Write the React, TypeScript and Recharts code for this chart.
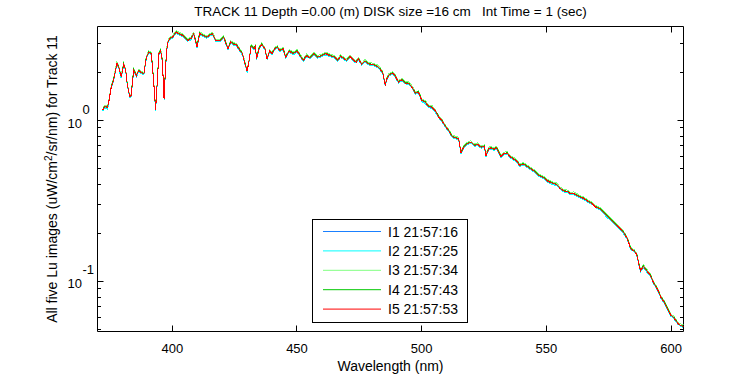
import React from 'react';
import { LineChart, Line, XAxis, YAxis, Legend, ReferenceLine } from 'recharts';

// plot box in pixels (matches the MATLAB figure)
const PLOT_LEFT = 97.5;
const PLOT_RIGHT = 683.5;
const PLOT_TOP = 26.5;
const PLOT_BOTTOM = 331.5;
const X_AXIS_H = 30;
const Y_AXIS_W = 60;
const FONT = '"Liberation Sans", Arial, Helvetica, sans-serif';
const TICK_COLOR = '#000';

const wavelength = [
  372, 373, 374, 374.5, 375.5, 376.4, 377.8, 378.6, 379.5, 380.5,
  381.3, 381.9, 382.9, 383.5, 384.5, 385.6, 386.5, 387.6, 388.6, 389.6,
  390.6, 391.6, 392.5, 393.3, 394.0, 394.6, 395.3, 396.0, 396.7, 397.3,
  398.0, 398.9, 400.0, 401.6, 402.7, 404.3, 406.0, 407.4, 408.6, 409.9,
  411.0, 412.3, 413.7, 414.7, 416.1, 417.4, 419.0, 420.6, 422.3, 423.4,
  424.4, 425.7, 427.1, 428.1, 429.1, 430.0, 430.8, 431.6, 432.7, 433.3,
  433.8, 434.8, 435.8, 437.1, 438.0, 439.1, 440.0, 441.1, 442.1, 443.1,
  444.5, 445.4, 446.9, 448.5, 450.1, 451.2, 452.5, 453.9, 455.2, 456.8,
  458.1, 459.9, 461.6, 463.2, 465.3, 466.2, 467.5, 468.9, 469.9, 471.3,
  472.6, 473.7, 474.6, 476.0, 477.3, 478.6, 480.6, 482.2, 483.3, 484.4,
  485.4, 486.0, 487.0, 488.4, 489.3, 490.7, 492.0, 493.4, 494.7, 496.1,
  497.4, 498.7, 500.1, 501.4, 502.8, 504.1, 505.4, 506.8, 508.1, 509.5,
  510.8, 512.2, 513.5, 514.8, 515.8, 516.8, 518.2, 519.8, 521.1, 522.5,
  523.8, 525.1, 525.8, 526.9, 527.8, 528.9, 530.0, 530.9, 531.8, 532.9,
  534.3, 535.3, 536.7, 538.0, 539.3, 540.7, 542.3, 543.6, 545.2, 547.0,
  549.0, 550.6, 552.3, 554.1, 555.7, 557.3, 558.6, 559.7, 561.0, 562.4,
  563.7, 565.3, 567.1, 568.4, 569.8, 571.5, 573.1, 574.7, 576.5, 578.2,
  579.8, 581.4, 582.5, 583.0, 583.8, 585.1, 586.2, 587.2, 587.8, 588.9,
  590.3, 591.6, 593.2, 594.5, 595.9, 597.2, 598.6, 599.9, 601.3, 602.6,
  603.7, 605.0,
];

// I1 21:57:16
const lu1 = [
  1.15, 1.21, 1.19, 1.29, 1.60, 1.76, 2.25, 2.11, 1.85, 2.21,
  2.04, 1.68, 1.40, 1.42, 2.05, 1.89, 2.03, 1.97, 1.94, 2.45,
  2.63, 2.58, 1.76, 1.16, 1.76, 2.58, 2.70, 2.34, 1.35, 2.15,
  2.97, 3.20, 3.27, 3.52, 3.43, 3.35, 3.12, 3.20, 3.43, 2.86,
  3.46, 3.35, 3.27, 3.35, 3.43, 3.12, 3.10, 3.27, 2.77, 3.05,
  2.97, 2.94, 2.70, 2.58, 2.25, 2.01, 2.34, 2.88, 2.77, 2.86,
  2.40, 2.78, 2.95, 2.78, 2.40, 2.68, 2.58, 2.77, 2.83, 2.70,
  2.77, 2.45, 2.68, 2.58, 2.68, 2.51, 2.34, 2.51, 2.43, 2.58,
  2.45, 2.51, 2.58, 2.51, 2.45, 2.34, 2.48, 2.40, 2.34, 2.48,
  2.36, 2.28, 2.40, 2.21, 2.32, 2.23, 2.20, 2.15, 2.08, 1.96,
  1.64, 1.80, 1.92, 1.96, 1.89, 1.72, 1.78, 1.70, 1.69, 1.60,
  1.47, 1.49, 1.32, 1.29, 1.21, 1.20, 1.14, 1.04, 0.993, 0.912,
  0.861, 0.790, 0.775, 0.765, 0.623, 0.678, 0.711, 0.728, 0.695, 0.705,
  0.678, 0.685, 0.602, 0.662, 0.672, 0.655, 0.672, 0.631, 0.594, 0.617,
  0.623, 0.594, 0.574, 0.560, 0.521, 0.534, 0.514, 0.497, 0.482, 0.452,
  0.437, 0.417, 0.405, 0.397, 0.373, 0.361, 0.359, 0.348, 0.350, 0.340,
  0.332, 0.324, 0.309, 0.303, 0.288, 0.281, 0.264, 0.249, 0.235, 0.221,
  0.211, 0.196, 0.183, 0.174, 0.159, 0.154, 0.147, 0.125, 0.116, 0.123,
  0.115, 0.109, 0.0960, 0.0893, 0.0794, 0.0740, 0.0672, 0.0614, 0.0586, 0.0548,
  0.0530, 0.0521,
];

// I2 21:57:25
const lu2 = [
  1.14, 1.20, 1.18, 1.28, 1.59, 1.75, 2.24, 2.09, 1.83, 2.20,
  2.02, 1.67, 1.39, 1.41, 2.03, 1.87, 2.01, 1.95, 1.92, 2.44,
  2.61, 2.56, 1.75, 1.15, 1.75, 2.56, 2.68, 2.33, 1.34, 2.14,
  2.95, 3.17, 3.24, 3.49, 3.40, 3.32, 3.10, 3.17, 3.40, 2.84,
  3.43, 3.32, 3.24, 3.32, 3.40, 3.10, 3.08, 3.24, 2.75, 3.03,
  2.95, 2.92, 2.68, 2.56, 2.24, 1.99, 2.33, 2.86, 2.75, 2.84,
  2.39, 2.76, 2.93, 2.76, 2.39, 2.66, 2.56, 2.75, 2.81, 2.68,
  2.75, 2.44, 2.66, 2.56, 2.66, 2.49, 2.33, 2.49, 2.42, 2.56,
  2.44, 2.49, 2.56, 2.49, 2.44, 2.33, 2.47, 2.39, 2.33, 2.47,
  2.35, 2.27, 2.39, 2.20, 2.31, 2.22, 2.19, 2.14, 2.06, 1.94,
  1.63, 1.78, 1.90, 1.94, 1.87, 1.71, 1.76, 1.69, 1.68, 1.59,
  1.46, 1.48, 1.31, 1.28, 1.20, 1.19, 1.13, 1.04, 0.986, 0.905,
  0.855, 0.785, 0.769, 0.759, 0.618, 0.673, 0.706, 0.723, 0.690, 0.700,
  0.673, 0.680, 0.598, 0.658, 0.668, 0.651, 0.668, 0.626, 0.590, 0.612,
  0.618, 0.590, 0.570, 0.556, 0.518, 0.530, 0.511, 0.494, 0.478, 0.449,
  0.434, 0.414, 0.402, 0.394, 0.371, 0.359, 0.357, 0.345, 0.347, 0.337,
  0.329, 0.321, 0.307, 0.301, 0.286, 0.279, 0.262, 0.247, 0.234, 0.220,
  0.209, 0.194, 0.181, 0.173, 0.158, 0.153, 0.146, 0.124, 0.115, 0.122,
  0.114, 0.108, 0.0953, 0.0886, 0.0789, 0.0735, 0.0668, 0.0609, 0.0582, 0.0544,
  0.0527, 0.0518,
];

// I3 21:57:34
const lu3 = [
  1.19, 1.25, 1.23, 1.33, 1.65, 1.81, 2.32, 2.17, 1.90, 2.28,
  2.10, 1.73, 1.44, 1.46, 2.11, 1.94, 2.08, 2.02, 1.99, 2.52,
  2.71, 2.66, 1.81, 1.20, 1.81, 2.66, 2.78, 2.41, 1.39, 2.22,
  3.06, 3.29, 3.36, 3.62, 3.53, 3.44, 3.21, 3.29, 3.53, 2.94,
  3.56, 3.44, 3.36, 3.44, 3.53, 3.21, 3.19, 3.36, 2.85, 3.14,
  3.06, 3.02, 2.78, 2.66, 2.32, 2.06, 2.41, 2.96, 2.85, 2.94,
  2.47, 2.86, 3.04, 2.86, 2.47, 2.76, 2.66, 2.85, 2.91, 2.78,
  2.85, 2.52, 2.76, 2.66, 2.76, 2.59, 2.41, 2.59, 2.50, 2.66,
  2.52, 2.59, 2.66, 2.59, 2.52, 2.41, 2.56, 2.47, 2.41, 2.56,
  2.43, 2.35, 2.47, 2.28, 2.39, 2.30, 2.27, 2.22, 2.14, 2.01,
  1.69, 1.85, 1.97, 2.01, 1.94, 1.77, 1.83, 1.75, 1.74, 1.65,
  1.51, 1.53, 1.36, 1.33, 1.25, 1.24, 1.18, 1.07, 1.02, 0.938,
  0.886, 0.814, 0.797, 0.787, 0.641, 0.698, 0.732, 0.749, 0.715, 0.726,
  0.698, 0.705, 0.619, 0.682, 0.692, 0.675, 0.692, 0.649, 0.611, 0.635,
  0.641, 0.611, 0.591, 0.576, 0.537, 0.550, 0.529, 0.512, 0.496, 0.465,
  0.450, 0.429, 0.417, 0.409, 0.384, 0.372, 0.370, 0.358, 0.360, 0.350,
  0.341, 0.333, 0.318, 0.312, 0.296, 0.289, 0.272, 0.257, 0.242, 0.228,
  0.217, 0.201, 0.188, 0.179, 0.164, 0.158, 0.151, 0.129, 0.120, 0.127,
  0.119, 0.112, 0.0988, 0.0919, 0.0818, 0.0761, 0.0692, 0.0632, 0.0603, 0.0564,
  0.0546, 0.0537,
];

// I4 21:57:43
const lu4 = [
  1.17, 1.23, 1.21, 1.31, 1.62, 1.78, 2.28, 2.13, 1.87, 2.24,
  2.06, 1.70, 1.42, 1.44, 2.07, 1.91, 2.05, 1.99, 1.96, 2.48,
  2.67, 2.62, 1.78, 1.18, 1.78, 2.62, 2.74, 2.37, 1.37, 2.18,
  3.01, 3.24, 3.31, 3.56, 3.47, 3.39, 3.16, 3.24, 3.47, 2.90,
  3.50, 3.39, 3.31, 3.39, 3.47, 3.16, 3.14, 3.31, 2.81, 3.09,
  3.01, 2.98, 2.74, 2.62, 2.28, 2.03, 2.37, 2.92, 2.81, 2.90,
  2.43, 2.82, 2.99, 2.82, 2.43, 2.72, 2.62, 2.81, 2.87, 2.74,
  2.81, 2.48, 2.72, 2.62, 2.72, 2.55, 2.37, 2.55, 2.46, 2.62,
  2.48, 2.55, 2.62, 2.55, 2.48, 2.37, 2.52, 2.43, 2.37, 2.52,
  2.39, 2.31, 2.43, 2.24, 2.35, 2.26, 2.23, 2.18, 2.10, 1.98,
  1.66, 1.82, 1.94, 1.98, 1.91, 1.74, 1.80, 1.72, 1.71, 1.62,
  1.49, 1.51, 1.34, 1.31, 1.23, 1.22, 1.16, 1.06, 1.01, 0.924,
  0.872, 0.801, 0.785, 0.775, 0.631, 0.687, 0.720, 0.737, 0.704, 0.714,
  0.687, 0.694, 0.610, 0.671, 0.681, 0.664, 0.681, 0.639, 0.602, 0.625,
  0.631, 0.602, 0.581, 0.567, 0.528, 0.541, 0.521, 0.504, 0.488, 0.458,
  0.443, 0.423, 0.410, 0.402, 0.378, 0.366, 0.364, 0.352, 0.354, 0.344,
  0.336, 0.328, 0.313, 0.307, 0.292, 0.285, 0.268, 0.253, 0.238, 0.224,
  0.213, 0.198, 0.185, 0.176, 0.161, 0.156, 0.149, 0.127, 0.118, 0.125,
  0.117, 0.111, 0.0973, 0.0904, 0.0805, 0.0749, 0.0681, 0.0622, 0.0594, 0.0555,
  0.0537, 0.0528,
];

// I5 21:57:53 (drawn last, on top)
const lu5 = [
  1.16, 1.22, 1.20, 1.30, 1.61, 1.77, 2.27, 2.12, 1.86, 2.23,
  2.05, 1.69, 1.41, 1.43, 2.06, 1.90, 2.04, 1.98, 1.95, 2.47,
  2.65, 2.60, 1.77, 1.17, 1.77, 2.60, 2.72, 2.36, 1.36, 2.17,
  2.99, 3.22, 3.29, 3.54, 3.45, 3.37, 3.14, 3.22, 3.45, 2.88,
  3.48, 3.37, 3.29, 3.37, 3.45, 3.14, 3.12, 3.29, 2.79, 3.07,
  2.99, 2.96, 2.72, 2.60, 2.27, 2.02, 2.36, 2.90, 2.79, 2.88,
  2.42, 2.80, 2.97, 2.80, 2.42, 2.70, 2.60, 2.79, 2.85, 2.72,
  2.79, 2.47, 2.70, 2.60, 2.70, 2.53, 2.36, 2.53, 2.45, 2.60,
  2.47, 2.53, 2.60, 2.53, 2.47, 2.36, 2.50, 2.42, 2.36, 2.50,
  2.38, 2.30, 2.42, 2.23, 2.34, 2.25, 2.22, 2.17, 2.09, 1.97,
  1.65, 1.81, 1.93, 1.97, 1.90, 1.73, 1.79, 1.71, 1.70, 1.61,
  1.48, 1.50, 1.33, 1.30, 1.22, 1.21, 1.15, 1.05, 1.00, 0.918,
  0.867, 0.796, 0.780, 0.770, 0.627, 0.683, 0.716, 0.733, 0.700, 0.710,
  0.683, 0.690, 0.606, 0.667, 0.677, 0.660, 0.677, 0.635, 0.598, 0.621,
  0.627, 0.598, 0.578, 0.564, 0.525, 0.538, 0.518, 0.501, 0.485, 0.455,
  0.440, 0.420, 0.408, 0.400, 0.376, 0.364, 0.362, 0.350, 0.352, 0.342,
  0.334, 0.326, 0.311, 0.305, 0.290, 0.283, 0.266, 0.251, 0.237, 0.223,
  0.212, 0.197, 0.184, 0.175, 0.160, 0.155, 0.148, 0.126, 0.117, 0.124,
  0.116, 0.110, 0.0967, 0.0899, 0.0800, 0.0745, 0.0677, 0.0618, 0.0590, 0.0552,
  0.0534, 0.0525,
];

const seriesKeys = ['lu1', 'lu2', 'lu3', 'lu4', 'lu5'];
const seriesNames = ['I1 21:57:16', 'I2 21:57:25', 'I3 21:57:34', 'I4 21:57:43', 'I5 21:57:53'];
const seriesColors = ['#1a80ff', '#00ffff', '#80ff80', '#00c800', '#ff0000'];

const xTicks = [400, 450, 500, 550, 600];
const yMajorTicks = [0.1, 1];
const yMinorTicks = [0.05, 0.06, 0.07, 0.08, 0.09, 0.2, 0.3, 0.4, 0.5, 0.6, 0.7, 0.8, 0.9, 2, 3];
const yExponent: Record<string, string> = { '0.1': '-1', '1': '0' };

const X_DOMAIN: [number, number] = [370, 605];
const Y_DOMAIN: [number, number] = [0.0489, 3.84];

const chartData = wavelength.map((w, i) => ({
  w,
  lu1: lu1[i],
  lu2: lu2[i],
  lu3: lu3[i],
  lu4: lu4[i],
  lu5: lu5[i],
}));

const crisp = (v: number) => Math.round(v - 0.5) + 0.5;

// x ticks point inward, on both the bottom and the top edge
const XTick = (props: any) => {
  const { x, payload } = props;
  const cx = crisp(Number(x));
  return (
    <g>
      <path d={`M${cx},${PLOT_BOTTOM}V${PLOT_BOTTOM - 6}M${cx},${PLOT_TOP}V${PLOT_TOP + 6}`} stroke={TICK_COLOR} strokeWidth={1} fill="none" />
      <text x={x} y={PLOT_BOTTOM + 21} textAnchor="middle" fontFamily={FONT} fontSize={13} fill="#000">
        {payload.value}
      </text>
    </g>
  );
};

// log y ticks: long for decades, short for the minor ones, mirrored on the right
const YTick = (props: any) => {
  const { y, payload } = props;
  const cy = crisp(Number(y));
  const isMajor = yMajorTicks.includes(payload.value);
  const len = isMajor ? 6 : 3.5;
  return (
    <g>
      <path d={`M${PLOT_LEFT},${cy}H${PLOT_LEFT + len}M${PLOT_RIGHT - len},${cy}H${PLOT_RIGHT}`} stroke={TICK_COLOR} strokeWidth={1} fill="none" />
      {isMajor && (
        <g fontFamily={FONT} fontSize={13} fill="#000">
          <text x={82} y={y + 7} textAnchor="end">10</text>
          <text x={82.5} y={y - 7} textAnchor="start">{yExponent[String(payload.value)]}</text>
        </g>
      )}
    </g>
  );
};

const LegendBox = (props: any) => {
  const items = props.payload && props.payload.length ? props.payload : seriesNames.map((n, i) => ({ value: n, color: seriesColors[i] }));
  return (
    <svg width={156} height={104} style={{ display: 'block' }}>
      <rect x={0.5} y={0.5} width={155} height={103} fill="#fff" stroke="#000" />
      {items.map((it: any, i: number) => {
        const cy = 12.5 + i * 19.4;
        return (
          <g key={it.value}>
            <line x1={11} x2={69} y1={cy} y2={cy} stroke={it.color} />
            <text x={76} y={cy + 5} fontFamily={FONT} fontSize={14} fill="#000">{it.value}</text>
          </g>
        );
      })}
    </svg>
  );
};

export default function App() {
  return (
    <div style={{ position: 'absolute', left: 0, top: 0, width: 750, height: 375, background: '#fff' }}>
      <LineChart
        width={750}
        height={375}
        data={chartData}
        margin={{
          top: PLOT_TOP,
          right: 750 - PLOT_RIGHT,
          bottom: 375 - PLOT_BOTTOM - X_AXIS_H,
          left: PLOT_LEFT - Y_AXIS_W,
        }}
      >
        <XAxis
          dataKey="w"
          type="number"
          domain={X_DOMAIN}
          allowDataOverflow
          ticks={xTicks}
          interval={0}
          height={X_AXIS_H}
          tickSize={0}
          tickMargin={0}
          tickLine={false}
          axisLine={{ stroke: '#000' }}
          tick={<XTick />}
        />
        <YAxis
          type="number"
          scale="log"
          domain={Y_DOMAIN}
          allowDataOverflow
          ticks={[...yMinorTicks, ...yMajorTicks]}
          interval={0}
          width={Y_AXIS_W}
          tickSize={0}
          tickMargin={0}
          tickLine={false}
          axisLine={{ stroke: '#000' }}
          tick={<YTick />}
        />
        <ReferenceLine y={Y_DOMAIN[1]} stroke="#000" ifOverflow="visible" />
        <ReferenceLine x={X_DOMAIN[1]} stroke="#000" ifOverflow="visible" />
        {seriesKeys.map((k, i) => (
          <Line
            key={k}
            dataKey={k}
            name={seriesNames[i]}
            type="linear"
            stroke={seriesColors[i]}
            strokeWidth={1}
            shapeRendering="crispEdges"
            dot={false}
            activeDot={false}
            isAnimationActive={false}
          />
        ))}
        <Legend
          layout="vertical"
          align="center"
          verticalAlign="middle"
          content={<LegendBox />}
          wrapperStyle={{ left: 312, top: 219, width: 156, height: 104 }}
        />
        <text x={(PLOT_LEFT + PLOT_RIGHT) / 2} y={16} textAnchor="middle" fontFamily={FONT} fontSize={13.5} fill="#000" style={{ whiteSpace: 'pre' }}>
          {'TRACK 11 Depth =0.00 (m) DISK size =16 cm   Int Time = 1 (sec)'}
        </text>
        <text x={(PLOT_LEFT + PLOT_RIGHT) / 2} y={371} textAnchor="middle" fontFamily={FONT} fontSize={14} fill="#000">
          Wavelength (nm)
        </text>
        <text
          transform={`translate(57, ${(PLOT_TOP + PLOT_BOTTOM) / 2}) rotate(-90)`}
          textAnchor="middle"
          fontFamily={FONT}
          fontSize={14}
          fill="#000"
        >
          All five Lu images (uW/cm
          <tspan dy={-5} fontSize={10}>2</tspan>
          <tspan dy={5}>/sr/nm) for Track 11</tspan>
        </text>
      </LineChart>
    </div>
  );
}
